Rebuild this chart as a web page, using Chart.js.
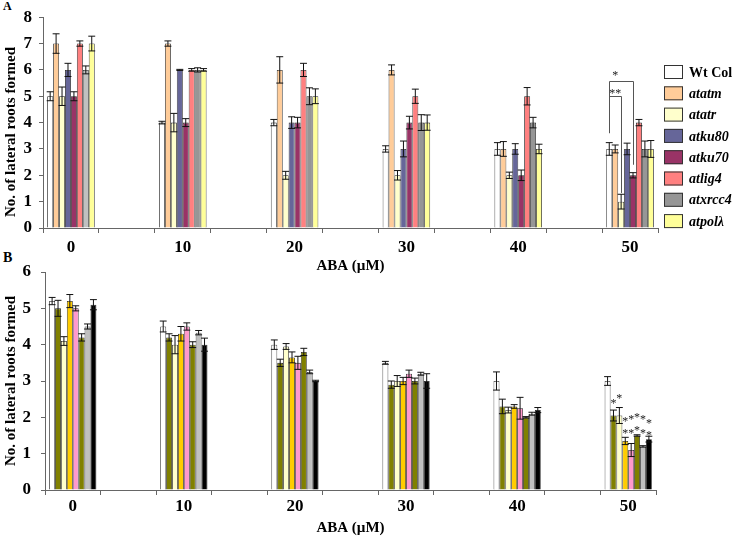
<!DOCTYPE html>
<html>
<head>
<meta charset="utf-8">
<script src="https://cdn.jsdelivr.net/npm/chart.js@4/dist/chart.umd.min.js"></script>
<style>
    body { margin: 0; background: #fff; width: 735px; height: 537px; position: relative; overflow: hidden; }
    canvas { position: absolute; left: 0; }
    #chartA { top: 0; }
    #chartB { top: 250px; }
    .panel { position: absolute; font-family: 'Liberation Serif', serif; font-weight: bold; }
</style>
</head>
<body>
<div class="panel" style="left:3px;top:-1px;font-size:12px">A</div>
<div class="panel" style="left:3px;top:250px;font-size:14px">B</div>
<canvas id="chartA" width="735" height="280"></canvas>
<canvas id="chartB" width="735" height="287"></canvas>
<script>
// Categories (ABA, µM)
const doses = ['0', '10', '20', '30', '40', '50'];

// Panel A - NHEJ / checkpoint mutants
const namesA = ['Wt Col', 'atatm', 'atatr', 'atku80', 'atku70', 'atlig4', 'atxrcc4', 'atpolλ'];
const wtColA = [5, 4, 4, 3, 3, 3];
const atatm = [7, 7, 6, 6, 3, 3];
const atatr = [5, 4, 2, 2, 2, 1];
const atku80 = [6, 6, 4, 3, 3, 3];
const atku70 = [5, 4, 4, 4, 2, 2];
const atlig4 = [7, 6, 6, 5, 5, 4];
const atxrcc4 = [6, 6, 5, 4, 4, 3];
const atpol = [7, 6, 5, 4, 3, 3];
const errWtColA = [0.17, 0.05, 0.12, 0.12, 0.24, 0.24];
const errAtatm = [0.37, 0.1, 0.5, 0.19, 0.28, 0.15];
const errAtatr = [0.35, 0.35, 0.15, 0.18, 0.12, 0.28];
const errAtku80 = [0.25, 0.02, 0.22, 0.3, 0.2, 0.22];
const errAtku70 = [0.17, 0.15, 0.2, 0.24, 0.2, 0.1];
const errAtlig4 = [0.1, 0.05, 0.25, 0.27, 0.33, 0.12];
const errAtxrcc4 = [0.15, 0.08, 0.32, 0.3, 0.2, 0.3];
const errAtpol = [0.28, 0.05, 0.28, 0.29, 0.18, 0.32];

// Panel B - HR mutants
const namesB = ['Wt Col', 'atmre11', 'atrad50', 'atnbs1', 'atrad51', 'atrad52', 'atrad54', 'atbrca1'];
const wtColB = [5.2, 4.5, 4.0, 3.5, 3.0, 3.0];
const atmre11 = [5.0, 4.2, 3.5, 2.9, 2.3, 2.05];
const atrad50 = [4.1, 4.0, 3.95, 3.0, 2.2, 2.05];
const atnbs1 = [5.2, 4.3, 3.65, 3.0, 2.3, 1.35];
const atrad51 = [5.0, 4.5, 3.5, 3.2, 2.25, 1.1];
const atrad52 = [4.2, 4.0, 3.8, 3.0, 2.0, 1.5];
const atrad54 = [4.5, 4.33, 3.25, 3.2, 2.1, 1.2];
const atbrca1 = [5.1, 4.0, 3.0, 3.0, 2.2, 1.4];
const errWtColB = [0.1, 0.15, 0.13, 0.04, 0.25, 0.12];
const errAtmre11 = [0.22, 0.1, 0.1, 0.1, 0.2, 0.15];
const errAtrad50 = [0.12, 0.25, 0.08, 0.15, 0.08, 0.22];
const errAtnbs1 = [0.18, 0.2, 0.15, 0.1, 0.05, 0.1];
const errAtrad51 = [0.07, 0.1, 0.18, 0.1, 0.3, 0.18];
const errAtrad52 = [0.1, 0.08, 0.1, 0.08, 0.02, 0.02];
const errAtrad54 = [0.07, 0.06, 0.05, 0.04, 0.04, 0.02];
const errAtbrca1 = [0.14, 0.18, 0.02, 0.2, 0.07, 0.08];

// Tick values on the y axes
const yTicksA = [0, 1, 2, 3, 4, 5, 6, 7, 8];
const yTicksB = [0, 1, 2, 3, 4, 5, 6];

const colorsA = ['#FFFFFF', '#FFCC99', '#FFFFCC', '#666699', '#993366', '#FF8080', '#969696', '#FFFF99'];
const colorsB = ['#FFFFFF', '#808000', '#FFFFCC', '#FFCC00', '#FF99CC', '#808000', '#C0C0C0', '#000000'];

const SERIF = "'Liberation Serif', 'Times New Roman', serif";

// Excel layout: an empty slot between every dose
const spread = arr => arr.flatMap((v, i) => i < arr.length - 1 ? [v, null] : [v]);
const labels = spread(doses).map(v => v === null ? '' : v);

function makeDatasets(names, values, errors, colors) {
    return names.map((name, i) => ({
        label: name,
        data: spread(values[i]),
        errors: spread(errors[i]),
        backgroundColor: colors[i],
        legendColor: colors[i],
        borderColor: '#222',
        borderWidth: 0.8,
        categoryPercentage: 0.85,
        barPercentage: 1
    }));
}

// Error bars drawn on top of each bar
const errorBars = {
    id: 'errorBars',
    afterDatasetsDraw(chart) {
        const ctx = chart.ctx;
        const y = chart.scales.y;
        ctx.save();
        ctx.strokeStyle = '#111';
        ctx.lineWidth = 1;
        chart.data.datasets.forEach((ds, i) => {
            chart.getDatasetMeta(i).data.forEach((bar, j) => {
                const v = ds.data[j], e = ds.errors[j];
                if (v == null || e == null) return;
                const top = y.getPixelForValue(v + e);
                const bot = y.getPixelForValue(v - e);
                const w = bar.width / 2 + 0.5;
                ctx.beginPath();
                ctx.moveTo(bar.x, top); ctx.lineTo(bar.x, bot);
                ctx.moveTo(bar.x - w, top); ctx.lineTo(bar.x + w, top);
                ctx.moveTo(bar.x - w, bot); ctx.lineTo(bar.x + w, bot);
                ctx.stroke();
            });
        });
        ctx.restore();
    }
};

// Legend with boxes, first entry upright, mutants in italics
const boxLegend = {
    id: 'boxLegend',
    afterDraw(chart, args, opts) {
        const ctx = chart.ctx;
        ctx.save();
        ctx.textBaseline = 'middle';
        chart.data.datasets.forEach((ds, i) => {
            const cy = opts.y + i * opts.step;
            ctx.fillStyle = ds.legendColor;
            ctx.strokeStyle = '#333';
            ctx.lineWidth = 1;
            ctx.fillRect(opts.x, cy - opts.boxH / 2, opts.boxW, opts.boxH);
            ctx.strokeRect(opts.x + 0.5, cy - opts.boxH / 2 + 0.5, opts.boxW - 1, opts.boxH - 1);
            ctx.fillStyle = '#000';
            ctx.font = (i === 0 ? 'bold ' : 'italic bold ') + '14px ' + SERIF;
            ctx.fillText(ds.label, opts.textX, cy + 1);
        });
        ctx.restore();
    }
};

// Significance marks (brackets and asterisks) placed on bars of a dose
const marks = {
    id: 'marks',
    afterDraw(chart, args, opts) {
        const ctx = chart.ctx;
        const y = chart.scales.y;
        const barX = k => chart.getDatasetMeta(k).data[opts.index].x;
        ctx.save();
        ctx.strokeStyle = '#555';
        ctx.lineWidth = 1;
        (opts.brackets || []).forEach(b => {
            const x1 = Math.round(barX(b.from)) + 0.5, x2 = Math.round(barX(b.to)) + 0.5;
            const top = Math.round(y.getPixelForValue(b.y)) + 0.5;
            ctx.beginPath();
            ctx.moveTo(x1, y.getPixelForValue(b.fromY));
            ctx.lineTo(x1, top);
            ctx.lineTo(x2, top);
            ctx.lineTo(x2, y.getPixelForValue(b.toY));
            ctx.stroke();
        });
        ctx.fillStyle = '#222';
        ctx.font = '12px ' + SERIF;
        ctx.textAlign = 'center';
        ctx.textBaseline = 'middle';
        (opts.stars || []).forEach(s => {
            const x = s.bar != null ? barX(s.bar) : (barX(s.from) + barX(s.to)) / 2;
            ctx.fillText(s.text, x, y.getPixelForValue(s.y) + 3);
        });
        ctx.restore();
    }
};

function makeChart(id, datasets, yTicks, geo, extra) {
    const ctx = document.getElementById(id).getContext('2d');
    return new Chart(ctx, {
        type: 'bar',
        data: { labels: labels, datasets: datasets },
        options: {
            responsive: false,
            animation: false,
            layout: { padding: { top: geo.top, right: geo.right, left: 0, bottom: 0 } },
            plugins: {
                legend: { display: false },
                tooltip: { enabled: false },
                boxLegend: geo.legend,
                marks: extra
            },
            scales: {
                x: {
                    afterFit: s => { s.height = geo.xHeight; },
                    grid: { display: true, drawOnChartArea: false, drawTicks: true, tickLength: 5, color: '#666', offset: true },
                    border: { display: true, color: '#666', width: 1 },
                    ticks: { color: '#000', padding: geo.xPad, maxRotation: 0, autoSkip: false,
                             font: { family: SERIF, size: 17, weight: 'bold' } },
                    title: { display: true, text: 'ABA (µM)', color: '#000', padding: { top: 0, bottom: geo.titlePad },
                             font: { family: SERIF, size: 15, weight: 'bold' } }
                },
                y: {
                    min: yTicks[0],
                    max: yTicks[yTicks.length - 1],
                    afterFit: s => { s.width = geo.yWidth; },
                    afterBuildTicks: s => { s.ticks = yTicks.map(v => ({ value: v })); },
                    grid: { display: true, drawOnChartArea: false, drawTicks: true, tickLength: 4, color: '#666' },
                    border: { display: true, color: '#666', width: 1 },
                    ticks: { color: '#000', padding: geo.yPad,
                             font: { family: SERIF, size: 17, weight: 'bold' } },
                    title: { display: true, text: geo.yTitle, color: '#000', padding: { top: 2, bottom: 0 },
                             font: { family: SERIF, size: 15, weight: 'bold' } }
                }
            }
        },
        plugins: [errorBars, boxLegend, marks]
    });
}

// Panel A
const dsA = makeDatasets(namesA,
    [wtColA, atatm, atatr, atku80, atku70, atlig4, atxrcc4, atpol],
    [errWtColA, errAtatm, errAtatr, errAtku80, errAtku70, errAtlig4, errAtxrcc4, errAtpol],
    colorsA);
// the atxrcc4 bar at 0 µM is lighter in the original
dsA[6].backgroundColor = labels.map((l, i) => i === 0 ? '#C0C0C0' : colorsA[6]);

makeChart('chartA', dsA, yTicksA, {
    top: 17, right: 77, xHeight: 52, yWidth: 43, xPad: 4, yPad: 7, titlePad: 5,
    yTitle: 'No. of lateral roots formed     ',
    legend: { x: 664, y: 72, step: 21.3, boxW: 19, boxH: 14, textX: 689 }
}, {
    index: 10,
    brackets: [
        { from: 0, to: 4, y: 5.57, fromY: 3.6, toY: 2.4 },
        { from: 0, to: 2, y: 5.0, fromY: 3.6, toY: 1.33 }
    ],
    stars: [
        { from: 0, to: 2, y: 5.9, text: '*' },
        { from: 0, to: 2, y: 5.2, text: '**' }
    ]
});

// Panel B
const dsB = makeDatasets(namesB,
    [wtColB, atmre11, atrad50, atnbs1, atrad51, atrad52, atrad54, atbrca1],
    [errWtColB, errAtmre11, errAtrad50, errAtnbs1, errAtrad51, errAtrad52, errAtrad54, errAtbrca1],
    colorsB);

makeChart('chartB', dsB, yTicksB, {
    top: 22, right: 79, xHeight: 47, yWidth: 45, xPad: 1, yPad: 10, titlePad: 0,
    yTitle: 'No. of lateral roots formed',
    legend: { x: 662, y: 312, step: 22.1, boxW: 16, boxH: 17, textX: 684 }
}, {
    index: 10,
    stars: [
        { bar: 1, y: 2.45, text: '*' },
        { bar: 2, y: 2.58, text: '*' },
        { bar: 3, y: 1.97, text: '*' },
        { bar: 4, y: 2.0, text: '*' },
        { bar: 5, y: 2.08, text: '*' },
        { bar: 6, y: 2.0, text: '*' },
        { bar: 7, y: 1.9, text: '*' },
        { bar: 3, y: 1.63, text: '*' },
        { bar: 4, y: 1.63, text: '*' },
        { bar: 5, y: 1.72, text: '*' },
        { bar: 6, y: 1.63, text: '*' },
        { bar: 7, y: 1.57, text: '*' }
    ]
});
</script>
</body>
</html>
